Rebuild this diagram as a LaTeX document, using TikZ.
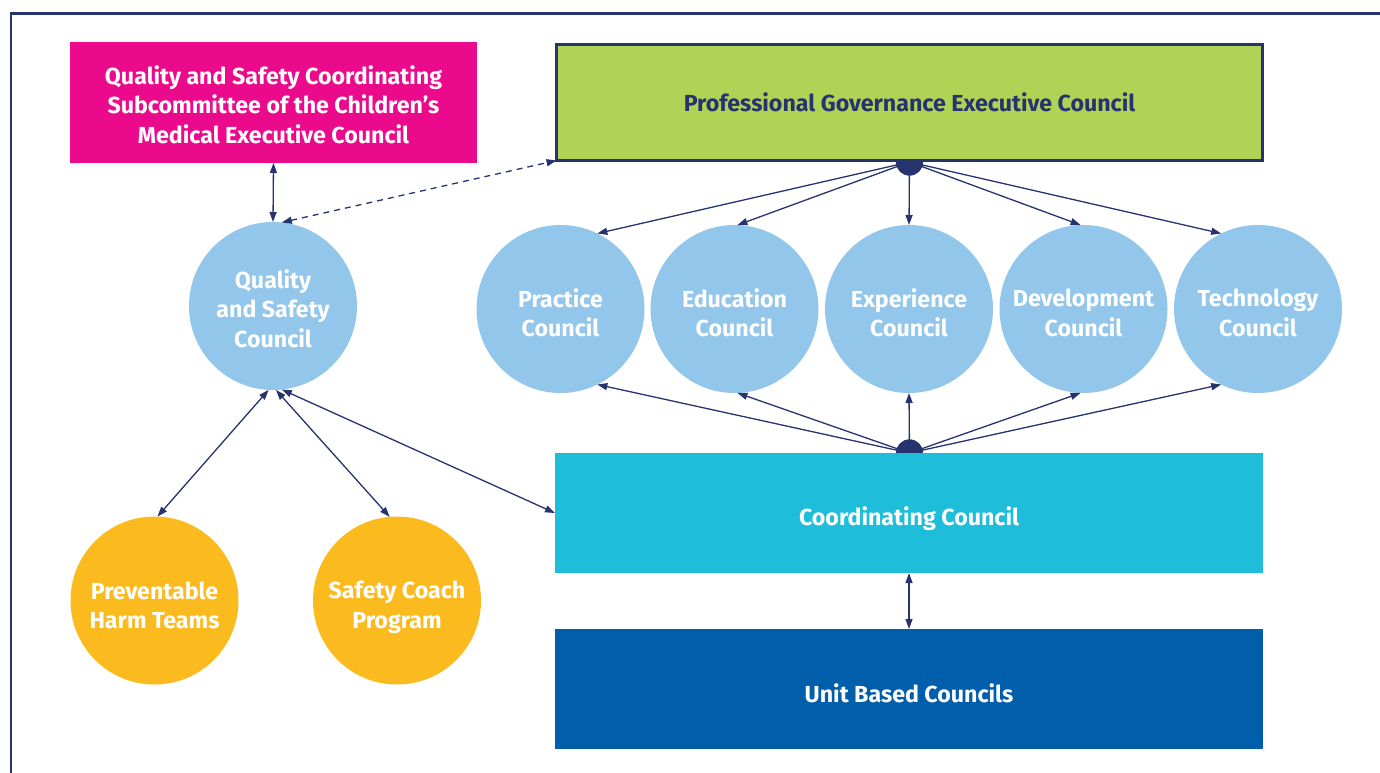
\documentclass[tikz,border=0pt]{standalone}
\usepackage{fontspec}
\setmainfont{Fira Sans}
\usetikzlibrary{arrows.meta}
\definecolor{navy}{HTML}{26336F}
\definecolor{qspink}{HTML}{EC0A8C}
\definecolor{pgreen}{HTML}{B1D355}
\definecolor{lblue}{HTML}{92C6EA}
\definecolor{ccyan}{HTML}{1EBEDB}
\definecolor{ublue}{HTML}{005EAB}
\definecolor{gold}{HTML}{FBBA1E}
\tikzset{
  lbl/.style={font=\fontsize{23.2}{29.5}\selectfont\bfseries, align=center, text=white, inner sep=0pt},
  bar/.style={rectangle, inner sep=0pt, outer sep=0pt},
  council/.style={circle, fill=lblue, minimum size=168pt, inner sep=0pt, outer sep=0pt},
  program/.style={circle, fill=gold, minimum size=168pt, inner sep=0pt, outer sep=0pt},
  hub/.style={circle, fill=navy, minimum size=27pt, inner sep=0pt},
  link/.style={draw=navy, line width=1.3pt, -{Triangle[length=10pt,width=7pt]}},
  link2/.style={draw=navy, line width=1.3pt, {Triangle[length=10pt,width=7pt]}-{Triangle[length=10pt,width=7pt]}},
  exec/.style={bar, fill=pgreen, draw=navy, line width=2.5pt, minimum width=706pt, minimum height=116pt},
  coordbar/.style={bar, fill=ccyan, minimum width=708pt, minimum height=120pt},
}
\begin{document}
\begin{tikzpicture}[x=1pt,y=-1pt]
\useasboundingbox (0,0) rectangle (1380,772);
% outer frame, open at right and bottom
\draw[navy, line width=2.2pt] (11,780) -- (11,13.5) -- (1390,13.5);

% hubs
\node[hub] (tophub) at (909.5,162) {};
\node[hub] (bothub) at (909.5,453) {};

% rectangles
\node[bar, fill=qspink, minimum width=407pt, minimum height=121pt] (qscs) at (273.5,102.5) {};
\node[exec] (pgec) at (909.5,102.5) {};
\node[coordbar] (coord) at (909,513) {};
\node[bar, fill=ublue, minimum width=708pt, minimum height=120pt] (unit) at (909,689) {};

% councils
\node[council] (qsc) at (273,306) {};
\node[council] (prac) at (560.5,309) {};
\node[council] (edu) at (734.5,309) {};
\node[council] (exp) at (909,309) {};
\node[council] (dev) at (1083.5,309) {};
\node[council] (tech) at (1258,309) {};

% programs
\node[program] (pht) at (154.5,600.5) {};
\node[program] (scp) at (397,600.5) {};

% spokes between the hubs and the councils
\draw[link] (tophub.center) -- (prac.64);
\draw[link] (tophub.center) -- (edu.88);
\draw[link] (tophub.center) -- (exp.90);
\draw[link] (tophub.center) -- (dev.92);
\draw[link] (tophub.center) -- (tech.116);
\draw[link] (bothub.center) -- (prac.-64);
\draw[link] (bothub.center) -- (edu.-88);
\draw[link] (bothub.center) -- (exp.-90);
\draw[link] (bothub.center) -- (dev.-92);
\draw[link] (bothub.center) -- (tech.-116);

% hubs and bars drawn again over the spoke ends
\fill[navy] (tophub) circle (13.5pt);
\fill[navy] (bothub) circle (13.5pt);
\node[exec] at (pgec.center) {};
\node[coordbar] at (coord.center) {};

% labels
\node[lbl] (qscsT) at ([yshift=-2pt]qscs.center) {Quality and Safety Coordinating\\Subcommittee of the Children’s\\Medical Executive Council};
\node[lbl, text=navy] (pgecT) at (pgec.center) {Professional Governance Executive Council};
\node[lbl] (coordT) at ([yshift=-6pt]coord.center) {Coordinating Council};
\node[lbl] (unitT) at ([yshift=-4pt]unit.center) {Unit Based Councils};
\node[lbl] (qscT) at ([yshift=-2.5pt]qsc.center) {Quality\\and Safety\\Council};
\node[lbl] (pracT) at ([yshift=-4pt]prac.center) {Practice\\Council};
\node[lbl] (eduT) at ([yshift=-4pt]edu.center) {Education\\Council};
\node[lbl] (expT) at ([yshift=-4pt]exp.center) {Experience\\Council};
\node[lbl] (devT) at ([yshift=-4pt]dev.center) {Development\\Council};
\node[lbl] (techT) at ([yshift=-4pt]tech.center) {Technology\\Council};
\node[lbl] (phtT) at ([yshift=-5pt]pht.center) {Preventable\\Harm Teams};
\node[lbl] (scpT) at ([yshift=-7pt]scp.center) {Safety Coach\\Program};

% quality and safety links
\draw[link2] (qsc.90) -- (qscs.south);
\draw[link2, dashed, dash pattern=on 6pt off 5pt] (qsc.84) -- (pgec.south west);
\draw[link2] (qsc.-93) -- (pht.88);
\draw[link2] (qsc.-88) -- (scp.95);
\draw[link2] (qsc.-84) -- (coord.west);
\draw[link2] (coord.south) -- (unit.north);
\end{tikzpicture}
\end{document}
